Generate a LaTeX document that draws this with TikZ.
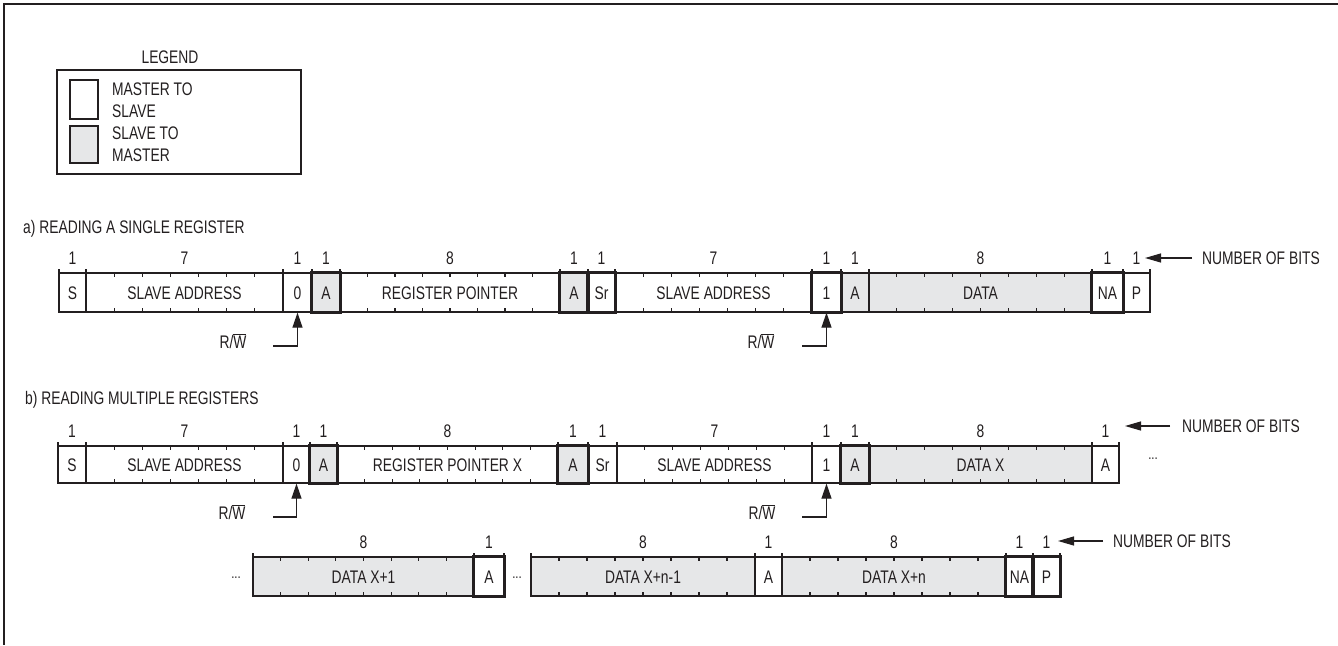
\documentclass[tikz,border=0pt]{standalone}
\usepackage{fontspec}
\setmainfont{Liberation Sans}[FakeStretch=0.76]
\usetikzlibrary{arrows.meta}
\definecolor{slv}{RGB}{230,231,232}
\definecolor{ink}{RGB}{35,31,32}
\newcommand\fs{\fontsize{18.2}{22}\selectfont}
\tikzset{
  field/.style={draw=ink, line width=1.3pt, inner sep=0pt, text height=13pt, text depth=0pt, font=\fs, text=ink},
  lab/.style={inner sep=0pt, text height=13pt, text depth=0pt, font=\fs, text=ink},
  tickl/.style={draw=ink, line width=1.1pt},
  thk/.style={draw=ink, line width=1.9pt},
  arr/.style={draw=ink, line width=1.2pt, -{Triangle[length=16pt,width=9pt]}},
  rwarr/.style={draw=ink, line width=1.2pt, -{Triangle[length=15pt,width=10pt]}},
  dots/.style={inner sep=0pt, font=\fontsize{15}{17}\selectfont, text=ink},
}
% name, x1, x2, ytop, ybot, nbits, fill, label, number
\newcommand\fld[9]{%
  \pgfmathsetmacro\fw{#3-#2}%
  \pgfmathsetmacro\fh{#5-#4}%
  \node[field, fill=#7, minimum width=\fw pt, minimum height=\fh pt] (#1) at ({(#2+#3)/2},{(#4+#5)/2}) {#8};
  \draw[tickl] (#2,#4) -- ++(0,-4) (#3,#4) -- ++(0,-4);
  \pgfmathtruncatemacro\nm{#6-1}%
  \ifnum\nm>0
    \foreach \i in {1,...,\nm}{\draw[tickl] ({#2+\i*(#3-#2)/#6},#4) -- ++(0,4) ({#2+\i*(#3-#2)/#6},#5) -- ++(0,-4);}
  \fi
  \node[lab] (#1n) at ({(#2+#3)/2},{#4-15}) {#9};
}
\begin{document}
\begin{tikzpicture}[x=1pt,y=-1pt]
\useasboundingbox (0,0) rectangle (1338,645);
\fill[white] (0,0) rectangle (1338,645);
% frame
\draw[ink, line width=2pt] (1338,4) -- (4,4) -- (4,645);

% legend
\node[lab] (legt) at (170,57) {LEGEND};
\node[draw=ink, line width=1.3pt, minimum width=244pt, minimum height=104pt, inner sep=0pt] (legbox) at (179,122) {};
\node[draw=ink, line width=1.3pt, fill=white, minimum width=28pt, minimum height=39pt, inner sep=0pt] (legw) at (84,99.5) {};
\node[draw=ink, line width=1.3pt, fill=slv, minimum width=28pt, minimum height=37pt, inner sep=0pt] (legg) at (84,144.5) {};
\node[lab, anchor=west] (l1) at (112,89) {MASTER TO};
\node[lab, anchor=west] (l2) at (112,111) {SLAVE};
\node[lab, anchor=west] (l3) at (112,133) {SLAVE TO};
\node[lab, anchor=west] (l4) at (112,155) {MASTER};

% ---------------- row a
\node[lab, anchor=west] (ta) at (23,227) {a) READING A SINGLE REGISTER};
\fld{a1}{59}{86}{273}{312}{1}{white}{S}{1}
\fld{a2}{86}{283}{273}{312}{7}{white}{SLAVE ADDRESS}{7}
\fld{a3}{283}{312}{273}{312}{1}{white}{0}{1}
\fld{a4}{312}{340}{273}{312}{1}{slv}{A}{1}
\fld{a5}{340}{560}{273}{312}{8}{white}{REGISTER POINTER}{8}
\fld{a6}{560}{588}{273}{312}{1}{slv}{A}{1}
\fld{a7}{588}{615}{273}{312}{1}{white}{Sr}{1}
\fld{a8}{615}{812}{273}{312}{7}{white}{SLAVE ADDRESS}{7}
\fld{a9}{812}{841}{273}{312}{1}{white}{1}{1}
\fld{a10}{841}{869}{273}{312}{1}{slv}{A}{1}
\fld{a11}{869}{1092}{273}{312}{8}{slv}{DATA}{8}
\fld{a12}{1092}{1123}{273}{312}{1}{white}{NA}{1}
\fld{a13}{1123}{1150}{273}{312}{1}{white}{P}{1}
\foreach \c in {a4,a6,a7,a9,a12}{\draw[thk] (\c.north west) rectangle (\c.south east);}
\node[lab, anchor=west] (nba) at (1202,258) {NUMBER OF BITS};
\coordinate (nbat) at (1145,258);
\draw[arr] ([xshift=-10pt]nba.west) -- (nbat);
\node[lab] (rwa1) at (233,342) {R/$\overline{\mbox{W}}$};
\coordinate (rwa1c) at (273,346);
\draw[rwarr] (rwa1c) -| (a3.south);
\node[lab] (rwa2) at (761,342) {R/$\overline{\mbox{W}}$};
\coordinate (rwa2c) at (802,346);
\draw[rwarr] (rwa2c) -| (a9.south);

% ---------------- row b
\node[lab, anchor=west] (tb) at (25,398) {b) READING MULTIPLE REGISTERS};
\fld{b1}{58}{86}{446}{483}{1}{white}{S}{1}
\fld{b2}{86}{283}{446}{483}{7}{white}{SLAVE ADDRESS}{7}
\fld{b3}{283}{310}{446}{483}{1}{white}{0}{1}
\fld{b4}{310}{337}{446}{483}{1}{slv}{A}{1}
\fld{b5}{337}{558}{446}{483}{8}{white}{REGISTER POINTER X}{8}
\fld{b6}{558}{588}{446}{483}{1}{slv}{A}{1}
\fld{b7}{588}{617}{446}{483}{1}{white}{Sr}{1}
\fld{b8}{617}{812}{446}{483}{7}{white}{SLAVE ADDRESS}{7}
\fld{b9}{812}{841}{446}{483}{1}{white}{1}{1}
\fld{b10}{841}{869}{446}{483}{1}{slv}{A}{1}
\fld{b11}{869}{1092}{446}{483}{8}{slv}{DATA X}{8}
\fld{b12}{1092}{1119}{446}{483}{1}{white}{A}{1}
\foreach \c in {b4,b6,b10}{\draw[thk] (\c.north west) rectangle (\c.south east);}
\node[dots] (db1) at (1153,459) {...};
\node[lab, anchor=west] (nbb) at (1182,426) {NUMBER OF BITS};
\coordinate (nbbt) at (1125,426);
\draw[arr] ([xshift=-12pt]nbb.west) -- (nbbt);
\node[lab] (rwb1) at (232,513) {R/$\overline{\mbox{W}}$};
\coordinate (rwb1c) at (273,517);
\draw[rwarr] (rwb1c) -| (b3.south);
\node[lab] (rwb2) at (762,513) {R/$\overline{\mbox{W}}$};
\coordinate (rwb2c) at (802,517);
\draw[rwarr] (rwb2c) -| (b9.south);

% ---------------- row c
\node[dots] (dc1) at (236,578) {...};
\fld{c1}{253}{474}{557}{596}{8}{slv}{DATA X+1}{8}
\fld{c2}{474}{504}{557}{596}{1}{white}{A}{1}
\node[dots] (dc2) at (517,578) {...};
\fld{c3}{531}{755}{557}{596}{8}{slv}{DATA X+n-1}{8}
\fld{c4}{755}{782}{557}{596}{1}{white}{A}{1}
\fld{c5}{782}{1006}{557}{596}{8}{slv}{DATA X+n}{8}
\fld{c6}{1006}{1033}{557}{596}{1}{white}{NA}{1}
\fld{c7}{1033}{1060}{557}{596}{1}{white}{P}{1}
\foreach \c in {c2,c6,c7}{\draw[thk] (\c.north west) rectangle (\c.south east);}
\node[lab, anchor=west] (nbc) at (1113,541) {NUMBER OF BITS};
\coordinate (nbct) at (1058,541);
\draw[arr] ([xshift=-10pt]nbc.west) -- (nbct);
\end{tikzpicture}
\end{document}
